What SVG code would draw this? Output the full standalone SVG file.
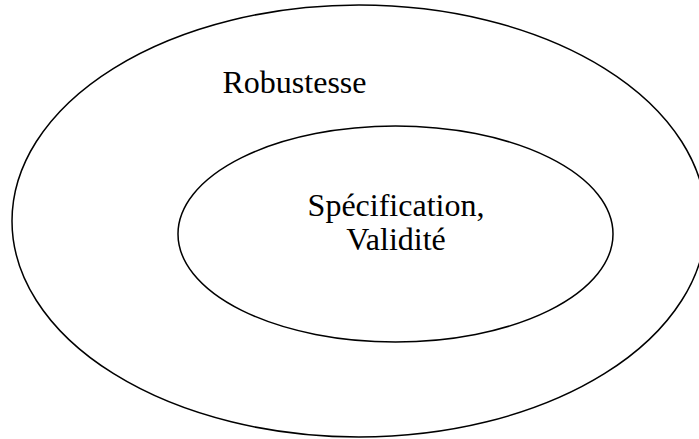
<svg xmlns="http://www.w3.org/2000/svg" width="699" height="439" viewBox="0 0 699 439">
<style>
.ell{fill:none;stroke:#000;stroke-width:1.5}
.lbl{font-family:"Liberation Serif","Times New Roman",serif;font-size:32px;fill:#000}
</style>
<rect width="699" height="439" fill="#fff"/>
<g id="robustesse">
<ellipse class="ell" cx="359" cy="221" rx="347" ry="216"/>
<text class="lbl" x="222.5" y="93">Robustesse</text>
</g>
<g id="specification">
<ellipse class="ell" cx="395.5" cy="234" rx="217.5" ry="108"/>
<text class="lbl" x="396" y="216" text-anchor="middle">Spécification,</text>
<text class="lbl" x="396" y="250" text-anchor="middle">Validité</text>
</g>
<g id="connectors"/>
</svg>
